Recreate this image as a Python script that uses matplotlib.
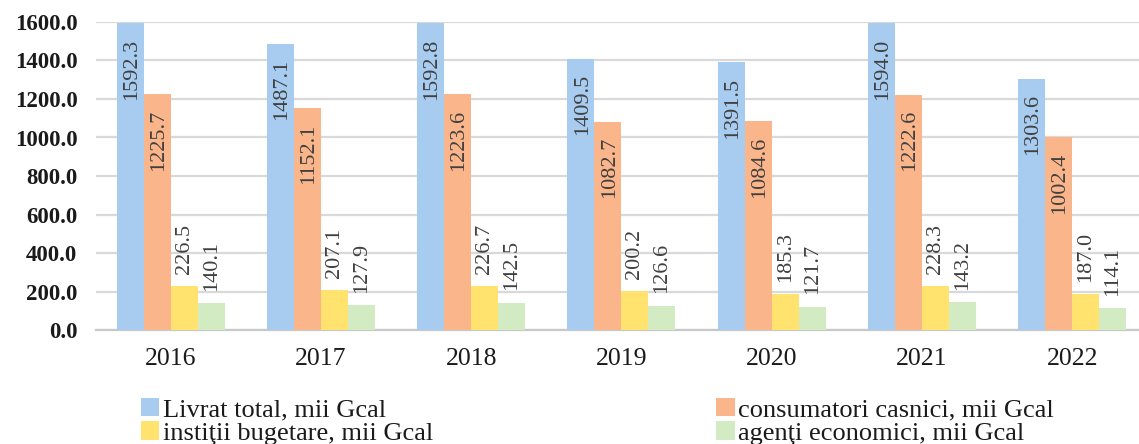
import matplotlib
matplotlib.use("Agg")
import matplotlib.pyplot as plt
import numpy as np
from matplotlib.ticker import FormatStrFormatter

years = ["2016", "2017", "2018", "2019", "2020", "2021", "2022"]
livrat_total = [1592.3, 1487.1, 1592.8, 1409.5, 1391.5, 1594.0, 1303.6]
consumatori_casnici = [1225.7, 1152.1, 1223.6, 1082.7, 1084.6, 1222.6, 1002.4]
institutii_bugetare = [226.5, 207.1, 226.7, 200.2, 185.3, 228.3, 187.0]
agenti_economici = [140.1, 127.9, 142.5, 126.6, 121.7, 143.2, 114.1]

series_names = ["Livrat total, mii Gcal", "consumatori casnici, mii Gcal",
                "instiţii bugetare, mii Gcal", "agenţi economici, mii Gcal"]
series_values = [livrat_total, consumatori_casnici, institutii_bugetare, agenti_economici]
colors = ["#A7CCF0", "#FBB58A", "#FFE36E", "#D3EBC3"]

plt.rcParams['font.family'] = ['Liberation Serif', 'DejaVu Serif']

W, H = 1139, 444
fig = plt.figure(figsize=(W / 100, H / 100), dpi=100)
ax_left, ax_right = 95.5, 1147.3
ax_top, ax_bottom = 22, 330
ax = fig.add_axes([ax_left / W, (H - ax_bottom) / H,
                   (ax_right - ax_left) / W, (ax_bottom - ax_top) / H])

x = np.arange(len(years))
bw = 0.18
offsets = [-1.5 * bw, -0.5 * bw, 0.5 * bw, 1.5 * bw]
handles = []
for i, (vals, c, name) in enumerate(zip(series_values, colors, series_names)):
    bars = ax.bar(x + offsets[i], vals, width=bw, color=c, label=name, zorder=3)
    handles.append(bars)
    for xi, v in zip(x + offsets[i], vals):
        if i < 2:
            ax.annotate(f"{v:.1f}", (xi, v), xytext=(1, -11), textcoords="offset points",
                        rotation=90, ha="center", va="top", fontsize=16,
                        color="#404040", zorder=4)
        else:
            ax.annotate(f"{v:.1f}", (xi, v), xytext=(0, 9), textcoords="offset points",
                        rotation=90, ha="center", va="bottom", fontsize=16,
                        color="#404040", zorder=4)

ax.set_xlim(-0.5, 6.5)
ax.set_ylim(0, 1600)
ax.set_yticks(np.arange(0, 1601, 200))
ax.yaxis.set_major_formatter(FormatStrFormatter("%.1f"))
ax.set_xticks(x)
ax.set_xticklabels(years)
ax.grid(axis="y", color="#D9D9D9", linewidth=1.6, zorder=0)
ax.set_axisbelow(True)
for s in ["top", "right", "left"]:
    ax.spines[s].set_visible(False)
ax.spines["bottom"].set_color("#C8C8C8")
ax.spines["bottom"].set_linewidth(1.6)
ax.tick_params(axis="both", length=0)
ax.tick_params(axis="y", pad=13, labelsize=16.5, labelcolor="#1a1a1a")
ax.tick_params(axis="x", pad=13, labelsize=18.5, labelcolor="#1a1a1a")
for lbl in ax.get_yticklabels():
    lbl.set_fontweight("bold")

leg = fig.legend(handles=[handles[0], handles[2], handles[1], handles[3]],
                 labels=[series_names[0], series_names[2], series_names[1], series_names[3]],
                 ncol=2, loc="upper left", bbox_to_anchor=(141 / W, 1 - 398 / H),
                 frameon=False, fontsize=19, handlelength=0.7, handleheight=0.7,
                 handletextpad=0.15, columnspacing=10.7, labelspacing=0.0,
                 borderaxespad=0, borderpad=0)
for t in leg.get_texts():
    t.set_color("#1a1a1a")

fig.savefig("out.png", dpi=100)
